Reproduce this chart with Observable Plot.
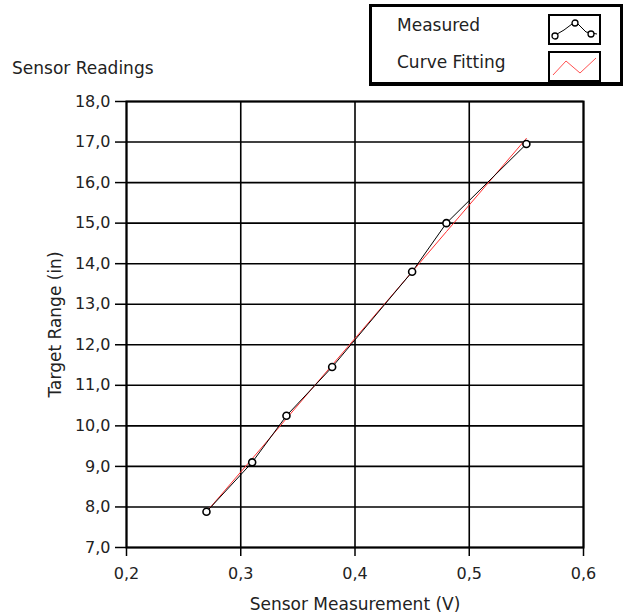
<!DOCTYPE html>
<html>
<head>
<meta charset="utf-8">
<script src="https://cdn.jsdelivr.net/npm/d3@7"></script>
<script src="https://cdn.jsdelivr.net/npm/@observablehq/plot@0.6"></script>
<style>
  html, body { margin: 0; padding: 0; background: #fff; }
  #wrap { position: relative; width: 625px; height: 613px; font-family: "DejaVu Sans", sans-serif; color: #222; }
  #title { position: absolute; left: 12px; top: 58px; font-size: 17px; }
  #legend { position: absolute; left: 369px; top: 4px; width: 248px; height: 75px; border: 3px solid #000; border-bottom-width: 4px; background: #fff; }
  .row { position: absolute; left: 25px; font-size: 17px; }
  .sw { position: absolute; left: 176px; width: 49px; height: 27px; border: 2px solid #000; background: #fff; }
</style>
</head>
<body>
<div id="wrap">
  <div id="chart"></div>
  <div id="title">Sensor Readings</div>
  <div id="legend">
    <div class="row" style="top:8px">Measured</div>
    <div class="sw" style="top:7px">
      <svg width="49" height="27">
        <polyline points="2,21 14,14 22,8 28,8 36,16 47,18" fill="none" stroke="#000" stroke-width="1"/>
        <circle cx="5" cy="20" r="3" fill="#fff" stroke="#000" stroke-width="1.3"/>
        <circle cx="25" cy="7" r="3" fill="#fff" stroke="#000" stroke-width="1.3"/>
        <circle cx="41" cy="18" r="3" fill="#fff" stroke="#000" stroke-width="1.3"/>
      </svg>
    </div>
    <div class="row" style="top:45px">Curve Fitting</div>
    <div class="sw" style="top:44px">
      <svg width="49" height="27">
        <polyline points="3,22 16,8 30,20 46,5" fill="none" stroke="#ff5050" stroke-width="1"/>
      </svg>
    </div>
  </div>
</div>
<script>
// Data
const voltage   = [0.27, 0.31, 0.34, 0.38, 0.45, 0.48, 0.55];
const measured  = [7.88, 9.10, 10.25, 11.45, 13.80, 15.00, 16.95];
const fitted    = [7.88, 9.19, 10.18, 11.50, 13.80, 14.79, 17.09];
const xTicks = [0.2, 0.3, 0.4, 0.5, 0.6];
const yTicks = [7, 8, 9, 10, 11, 12, 13, 14, 15, 16, 17, 18];

const meas = voltage.map((v, i) => ({x: v, y: measured[i]}));
const fit  = voltage.map((v, i) => ({x: v, y: fitted[i]}));
const fmt = d => d3.format(".1f")(d).replace(".", ",");

const chart = Plot.plot({
  width: 625,
  height: 613,
  marginLeft: 126,
  marginRight: 42,
  marginTop: 101,
  marginBottom: 66,
  style: {fontFamily: "DejaVu Sans, sans-serif", fontSize: "16px", color: "#222", background: "#fff"},
  x: {domain: [0.2, 0.6]},
  y: {domain: [7, 18]},
  marks: [
    Plot.gridX(xTicks, {stroke: "#000", strokeOpacity: 1, strokeWidth: 1.6}),
    Plot.gridY(yTicks, {stroke: "#000", strokeOpacity: 1, strokeWidth: 1.6}),
    Plot.frame({stroke: "#000", strokeWidth: 2}),
    Plot.axisX(xTicks, {tickSize: 9, tickPadding: 11, tickFormat: fmt, stroke: "#000", strokeWidth: 1.5, fontSize: 16, label: null}),
    Plot.axisX({ticks: [], tickSize: 0, label: "Sensor Measurement (V)", labelAnchor: "center", labelArrow: "none", labelOffset: 62, fontSize: 17}),
    Plot.axisY(yTicks, {tickSize: 11, tickPadding: 5, tickFormat: fmt, stroke: "#000", strokeWidth: 1.5, fontSize: 16, label: null}),
    Plot.axisY({ticks: [], tickSize: 0, label: "Target Range (in)", labelAnchor: "center", labelArrow: "none", labelOffset: 78, fontSize: 17}),
    Plot.line(fit, {x: "x", y: "y", stroke: "#ff3030", strokeWidth: 1}),
    Plot.line(meas, {x: "x", y: "y", stroke: "#000", strokeWidth: 1}),
    Plot.dot(meas, {x: "x", y: "y", r: 3.5, fill: "#fff", stroke: "#000", strokeWidth: 1.6})
  ]
});
document.getElementById("chart").appendChild(chart);
</script>
</body>
</html>
